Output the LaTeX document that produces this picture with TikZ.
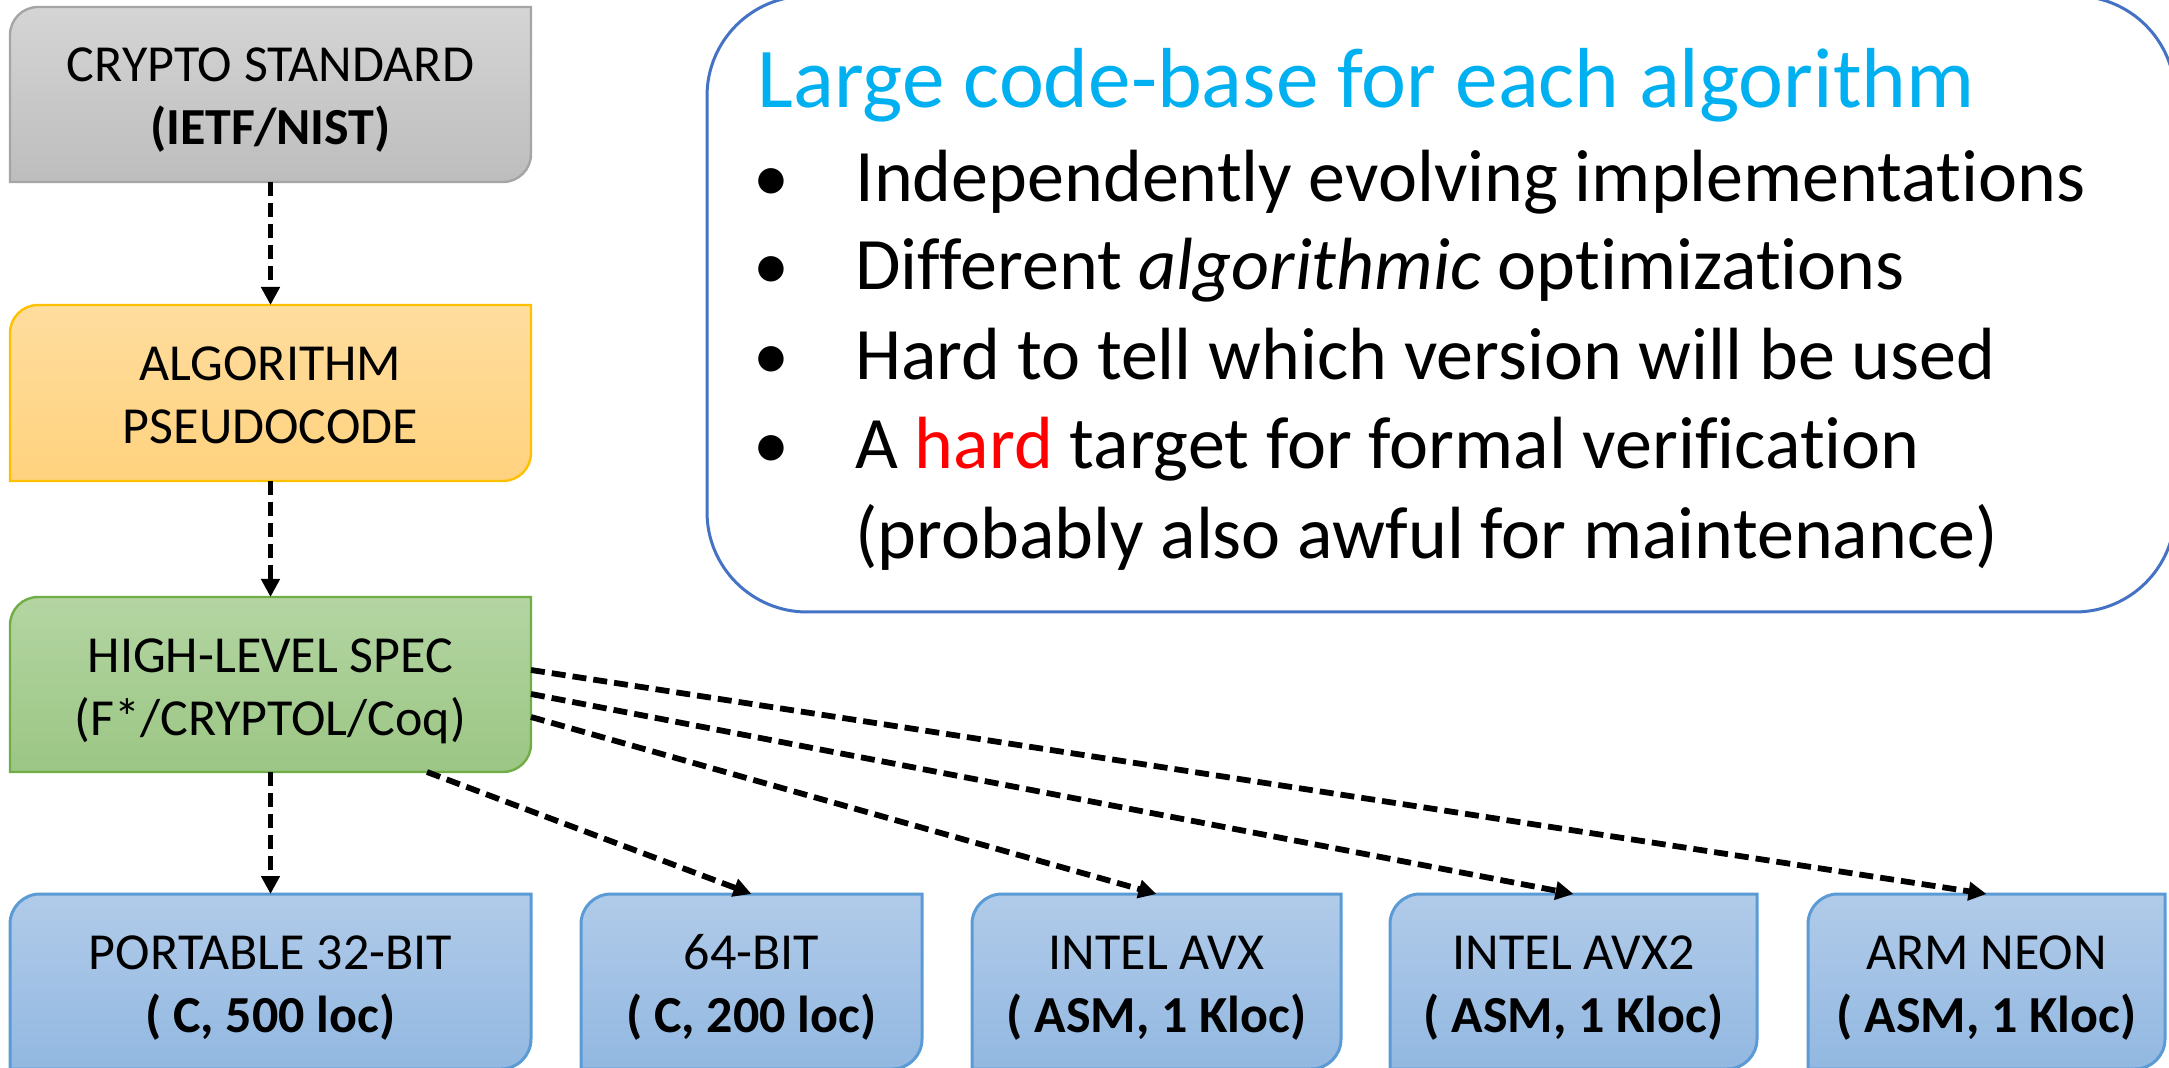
\documentclass[tikz,border=0pt]{standalone}
\usepackage{fontspec}
\setmainfont{Carlito}[Ligatures=NoCommon]
\usetikzlibrary{arrows.meta}
\pgfdeclarelayer{background}
\pgfsetlayers{background,main}

\definecolor{grayTop}{HTML}{D5D5D5}
\definecolor{grayBot}{HTML}{BDBDBD}
\definecolor{grayLine}{HTML}{A5A5A5}
\definecolor{orTop}{HTML}{FFDD9E}
\definecolor{orBot}{HTML}{FFD27E}
\definecolor{orLine}{HTML}{FFC000}
\definecolor{grTop}{HTML}{B4D5A2}
\definecolor{grBot}{HTML}{9BC684}
\definecolor{grLine}{HTML}{70AD47}
\definecolor{blTop}{HTML}{B1CBE9}
\definecolor{blBot}{HTML}{92B8E1}
\definecolor{blLine}{HTML}{5B9BD5}
\definecolor{panelLine}{HTML}{4472C4}
\definecolor{titleBlue}{HTML}{00B0F0}
\definecolor{hardRed}{HTML}{FF0000}

% fixed line height so every box label sits the same way
\newcommand\lstrut{\rule[-5pt]{0pt}{29pt}}
% outline with the top-left and bottom-right corners rounded
\newcommand\tlbrshape[2]{(#1.south west) -- ([yshift=-#2]#1.north west)
  arc[start angle=180,end angle=90,radius=#2] -- (#1.north east)
  -- ([yshift=#2]#1.south east) arc[start angle=0,end angle=-90,radius=#2] -- cycle}

\begin{document}
\begin{tikzpicture}[x=1pt,y=1pt,
  stagebox/.style={inner sep=0pt, outer sep=0pt, align=center,
    font=\fontsize{26}{31.5}\selectfont},
  tallbox/.style={stagebox, minimum height=87.5pt},
  conn/.style={line width=2.9pt, dash pattern=on 7pt off 3.5pt,
    -{Triangle[length=9pt,width=9pt]}},
  panel/.style={draw=panelLine, line width=1.5pt, fill=white,
    rounded corners=50pt, inner sep=0pt, outer sep=0pt},
  titletext/.style={anchor=base west, inner sep=0pt, text=titleBlue,
    font=\fontsize{42.6}{50}\selectfont},
  itemtext/.style={anchor=base west, inner sep=0pt,
    font=\fontsize{37}{44}\selectfont},
  itemmark/.style={anchor=base, inner sep=0pt,
    font=\fontsize{36}{43}\selectfont}]
\useasboundingbox (0,0) rectangle (1084.5,533.5);

% pipeline on the left
\node[tallbox, minimum width=260.5pt] (std) at (135.25,486.25)
  {\lstrut CRYPTO STANDARD\\\lstrut\textbf{(IETF/NIST)}};
\node[stagebox, minimum width=260.5pt, minimum height=88pt] (algo) at (135.25,337)
  {\lstrut ALGORITHM\\\lstrut PSEUDOCODE};
\node[tallbox, minimum width=260.5pt] (hls) at (135.25,191.25)
  {\lstrut HIGH-LEVEL SPEC\\\lstrut (F*/CRYPTOL/Coq)};

% implementations along the bottom
\node[tallbox, minimum width=260.5pt] (p32) at (135.25,42.75)
  {\lstrut PORTABLE 32-BIT\\\lstrut\textbf{( C, 500 loc)}};
\node[tallbox, minimum width=170.5pt] (p64) at (375.75,42.75)
  {\lstrut 64-BIT\\\lstrut\textbf{( C, 200 loc)}};
\node[tallbox, minimum width=184.5pt] (avx) at (578.25,42.75)
  {\lstrut INTEL AVX\\\lstrut\textbf{( ASM, 1 Kloc)}};
\node[tallbox, minimum width=183.5pt] (avx2) at (786.75,42.75)
  {\lstrut INTEL AVX2\\\lstrut\textbf{( ASM, 1 Kloc)}};
\node[tallbox, minimum width=178.5pt] (neon) at (993.25,42.75)
  {\lstrut ARM NEON\\\lstrut\textbf{( ASM, 1 Kloc)}};

\begin{pgfonlayer}{background}
  \path[top color=grayTop, bottom color=grayBot, draw=grayLine, line width=1.2pt]
    \tlbrshape{std}{14pt};
  \path[top color=orTop, bottom color=orBot, draw=orLine, line width=1.2pt]
    \tlbrshape{algo}{14pt};
  \path[top color=grTop, bottom color=grBot, draw=grLine, line width=1.2pt]
    \tlbrshape{hls}{14pt};
  \foreach \b in {p32,p64,avx,avx2,neon}
    \path[top color=blTop, bottom color=blBot, draw=blLine, line width=1.5pt]
      \tlbrshape{\b}{15pt};
\end{pgfonlayer}

% summary panel
\node[panel, minimum width=734pt, minimum height=308pt] (sum) at (720.5,381.5) {};
\node[titletext] (ttl) at (378.5,479.5) {Large code-base for each algorithm};
\node[itemmark] (m1) at (385.5,432.5) {•};
\node[itemtext] (t1) at (427.5,432.5) {Independently evolving implementations};
\node[itemmark] (m2) at (385.5,388.5) {•};
\node[itemtext] (t2) at (427.5,388.5) {Different \textit{algorithmic} optimizations};
\node[itemmark] (m3) at (385.5,343.5) {•};
\node[itemtext] (t3) at (427.5,343.5) {Hard to tell which version will be used};
\node[itemmark] (m4) at (385.5,299) {•};
\node[itemtext] (t4) at (427.5,299) {A \textcolor{hardRed}{hard} target for formal verification};
\node[itemtext] (t5) at (427.5,254) {(probably also awful for maintenance)};

% refinement arrows
\draw[conn] (std.south) -- (algo.north);
\draw[conn] (algo.south) -- (hls.north);
\draw[conn] (hls.south) -- (p32.north);
\draw[conn] ([xshift=78.25pt]hls.south) -- (p64.north);
\draw[conn] ([yshift=-16.25pt]hls.east) -- (avx.north);
\draw[conn] ([yshift=-4.75pt]hls.east) -- (avx2.north);
\draw[conn] ([yshift=7.25pt]hls.east) -- (neon.north);
\end{tikzpicture}
\end{document}
